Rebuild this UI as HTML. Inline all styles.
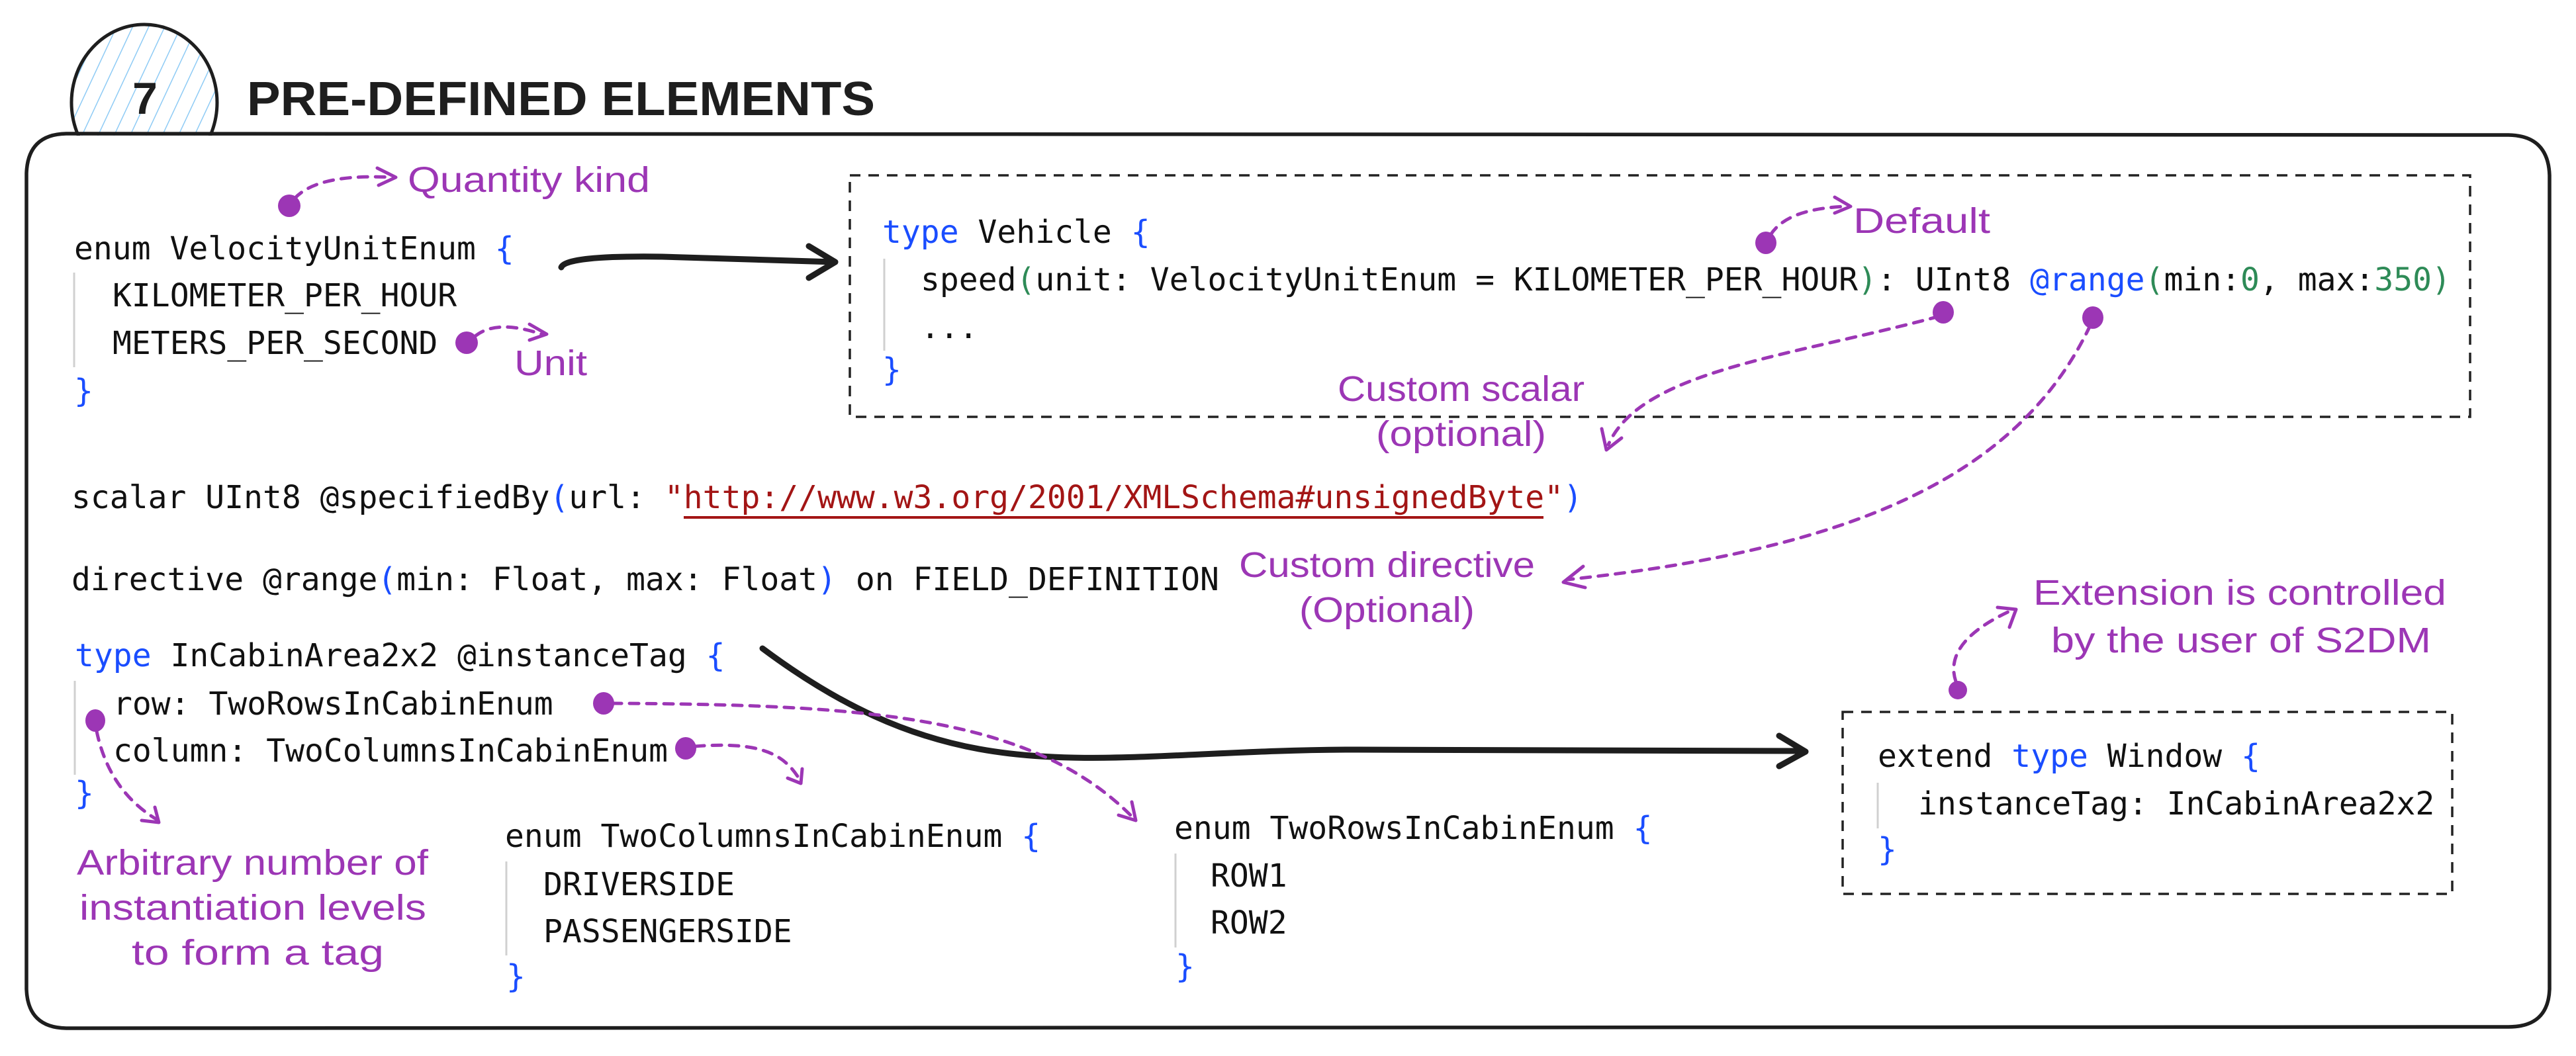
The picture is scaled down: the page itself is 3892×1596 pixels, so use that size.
<!DOCTYPE html>
<html><head><meta charset="utf-8"><style>
html,body{margin:0;padding:0;background:#fff;}
svg{display:block;}
.m{font-family:"DejaVu Sans Mono","Liberation Mono",monospace;font-size:48px;fill:#111;}
.h{font-family:"Liberation Sans","DejaVu Sans",sans-serif;fill:#9c36b5;font-size:54px;}
.b{fill:#1a4dff;} .g{fill:#2e8b57;} .r{fill:#a31515;}
.pd{fill:none;stroke:#9c36b5;stroke-width:5;stroke-dasharray:14 12;stroke-linecap:round;}
.ph{fill:none;stroke:#9c36b5;stroke-width:5;stroke-linecap:round;stroke-linejoin:round;}
.bar{stroke:#d0d0d0;stroke-width:3;}
.dash{fill:none;stroke:#222;stroke-width:3.5;stroke-dasharray:16 12;}
</style></head><body>
<svg width="3892" height="1596" viewBox="0 0 3892 1596" xmlns="http://www.w3.org/2000/svg">
<rect width="3892" height="1596" fill="#fff"/>
<defs><pattern id="hat" patternUnits="userSpaceOnUse" width="22" height="22" patternTransform="rotate(25)"><line x1="0" y1="0" x2="0" y2="22" stroke="#8ecbf5" stroke-width="3"/></pattern></defs>
<!-- circle -->
<ellipse cx="218" cy="155" rx="110" ry="118" fill="url(#hat)" stroke="#1e1e1e" stroke-width="5"/>
<rect x="30" y="205" width="400" height="100" fill="#fff"/>
<text x="219" y="172" text-anchor="middle" font-family="Liberation Sans,sans-serif" font-weight="bold" font-size="68" fill="#1e1e1e">7</text>
<text x="373" y="174" font-family="Liberation Sans,sans-serif" font-weight="bold" font-size="72" fill="#1e1e1e" textLength="949" lengthAdjust="spacingAndGlyphs">PRE-DEFINED ELEMENTS</text>
<!-- main box -->
<path d="M100,202 L3790,204 Q3850,205 3852,265 L3852,1495 Q3850,1552 3790,1552 L100,1554 Q42,1553 40,1495 L40,262 Q42,203 100,202 Z" fill="none" stroke="#1e1e1e" stroke-width="5.5"/>

<!-- Velocity enum -->
<text class="m" x="112" y="392">enum VelocityUnitEnum <tspan class="b">{</tspan></text>
<line class="bar" x1="112" y1="412" x2="112" y2="555"/>
<text class="m" x="170" y="463">KILOMETER_PER_HOUR</text>
<text class="m" x="170" y="535">METERS_PER_SECOND</text>
<text class="m b" x="112" y="607">}</text>

<!-- Vehicle box -->
<rect class="dash" x="1284" y="265" width="2448" height="365"/>
<text class="m" x="1333" y="367"><tspan class="b">type</tspan> Vehicle <tspan class="b">{</tspan></text>
<line class="bar" x1="1336" y1="391" x2="1336" y2="530"/>
<text class="m" x="1391" y="439">speed<tspan class="g">(</tspan>unit: VelocityUnitEnum = KILOMETER_PER_HOUR<tspan class="g">)</tspan>: UInt8 <tspan class="b">@range</tspan><tspan class="g">(</tspan>min:<tspan class="g">0</tspan>, max:<tspan class="g">350)</tspan></text>
<text class="m" x="1391" y="511">...</text>
<text class="m b" x="1333" y="575">}</text>

<!-- scalar / directive -->
<text class="m" x="108" y="768">scalar UInt8 @specifiedBy<tspan class="b">(</tspan>url: <tspan class="r">"http://www.w3.org/2001/XMLSchema#unsignedByte"</tspan><tspan class="b">)</tspan></text>
<line x1="1033" y1="782" x2="2332" y2="782" stroke="#a31515" stroke-width="4"/>
<text class="m" x="108" y="892">directive @range<tspan class="b">(</tspan>min: Float, max: Float<tspan class="b">)</tspan> on FIELD_DEFINITION</text>

<!-- InCabinArea -->
<text class="m" x="113" y="1007"><tspan class="b">type</tspan> InCabinArea2x2 @instanceTag <tspan class="b">{</tspan></text>
<line class="bar" x1="113" y1="1029" x2="113" y2="1171"/>
<text class="m" x="171" y="1080">row: TwoRowsInCabinEnum</text>
<text class="m" x="171" y="1151">column: TwoColumnsInCabinEnum</text>
<text class="m b" x="113" y="1215">}</text>

<text class="m" x="763" y="1280">enum TwoColumnsInCabinEnum <tspan class="b">{</tspan></text>
<line class="bar" x1="765" y1="1302" x2="765" y2="1444"/>
<text class="m" x="821" y="1353">DRIVERSIDE</text>
<text class="m" x="821" y="1424">PASSENGERSIDE</text>
<text class="m b" x="765" y="1492">}</text>

<text class="m" x="1774" y="1268">enum TwoRowsInCabinEnum <tspan class="b">{</tspan></text>
<line class="bar" x1="1776" y1="1290" x2="1776" y2="1432"/>
<text class="m" x="1829" y="1340">ROW1</text>
<text class="m" x="1829" y="1411">ROW2</text>
<text class="m b" x="1776" y="1477">}</text>

<!-- extend box -->
<rect class="dash" x="2784" y="1076" width="921" height="275"/>
<text class="m" x="2837" y="1159">extend <tspan class="b">type</tspan> Window <tspan class="b">{</tspan></text>
<line class="bar" x1="2837" y1="1183" x2="2837" y2="1252"/>
<text class="m" x="2898" y="1231">instanceTag: InCabinArea2x2</text>
<text class="m b" x="2837" y="1300">}</text>

<!-- black arrows -->
<path d="M848,404 Q855,386 1000,388 L1260,396" fill="none" stroke="#1e1e1e" stroke-width="9" stroke-linecap="round"/>
<path d="M1222,372 L1262,396 L1222,420" fill="none" stroke="#1e1e1e" stroke-width="9" stroke-linecap="round" stroke-linejoin="round"/>
<path d="M1152,980 C1460,1210 1650,1133 2050,1133 L2726,1135" fill="none" stroke="#1e1e1e" stroke-width="9" stroke-linecap="round"/>
<path d="M2688,1112 L2728,1136 L2688,1158" fill="none" stroke="#1e1e1e" stroke-width="9" stroke-linecap="round" stroke-linejoin="round"/>

<!-- purple dots -->
<g fill="#9c36b5">
<ellipse cx="437" cy="311" rx="17" ry="17"/>
<ellipse cx="705" cy="518" rx="17" ry="17"/>
<ellipse cx="2668" cy="367" rx="16" ry="17"/>
<ellipse cx="2936" cy="472" rx="16" ry="17"/>
<ellipse cx="3162" cy="480" rx="16" ry="17"/>
<ellipse cx="2958" cy="1043" rx="14" ry="14"/>
<ellipse cx="912" cy="1063" rx="16" ry="17"/>
<ellipse cx="1036" cy="1131" rx="16" ry="17"/>
<ellipse cx="144" cy="1089" rx="15" ry="17"/>
</g>

<!-- purple dashed arrows -->
<path class="pd" d="M445,300 Q480,262 592,268"/><path class="ph" d="M570,254 L598,268 L572,280"/>
<path class="pd" d="M718,508 Q750,482 818,505"/><path class="ph" d="M800,490 L826,505 L800,514"/>
<path class="pd" d="M2675,355 Q2700,315 2790,312"/><path class="ph" d="M2772,298 L2796,312 L2772,322"/>
<path class="pd" d="M2930,478 C2700,540 2480,560 2430,672"/><path class="ph" d="M2420,648 L2427,680 L2450,662"/>
<path class="pd" d="M3158,492 C3050,720 2800,830 2368,876"/><path class="ph" d="M2392,856 L2362,880 L2395,888"/>
<path class="pd" d="M2955,1030 Q2935,970 3040,922"/><path class="ph" d="M3018,918 L3046,921 L3036,948"/>
<path class="pd" d="M925,1063 C1300,1065 1560,1080 1712,1236"/><path class="ph" d="M1690,1232 L1716,1240 L1710,1212"/>
<path class="pd" d="M1050,1128 C1150,1120 1185,1140 1208,1178"/><path class="ph" d="M1190,1176 L1210,1184 L1212,1162"/>
<path class="pd" d="M146,1105 Q165,1195 236,1238"/><path class="ph" d="M214,1240 L240,1243 L234,1220"/>

<!-- annotations -->
<text class="h" x="616" y="290" textLength="366" lengthAdjust="spacingAndGlyphs">Quantity kind</text>
<text class="h" x="777" y="567" textLength="110" lengthAdjust="spacingAndGlyphs">Unit</text>
<text class="h" x="2800" y="352" textLength="207" lengthAdjust="spacingAndGlyphs">Default</text>
<text class="h" x="2021" y="606" textLength="373" lengthAdjust="spacingAndGlyphs">Custom scalar</text>
<text class="h" x="2079" y="674" textLength="257" lengthAdjust="spacingAndGlyphs">(optional)</text>
<text class="h" x="1872" y="872" textLength="447" lengthAdjust="spacingAndGlyphs">Custom directive</text>
<text class="h" x="1963" y="940" textLength="265" lengthAdjust="spacingAndGlyphs">(Optional)</text>
<text class="h" x="3072" y="914" textLength="624" lengthAdjust="spacingAndGlyphs">Extension is controlled</text>
<text class="h" x="3099" y="986" textLength="574" lengthAdjust="spacingAndGlyphs">by the user of S2DM</text>
<text class="h" x="116" y="1322" textLength="531" lengthAdjust="spacingAndGlyphs">Arbitrary number of</text>
<text class="h" x="120" y="1390" textLength="524" lengthAdjust="spacingAndGlyphs">instantiation levels</text>
<text class="h" x="199" y="1458" textLength="381" lengthAdjust="spacingAndGlyphs">to form a tag</text>
</svg>
</body></html>
